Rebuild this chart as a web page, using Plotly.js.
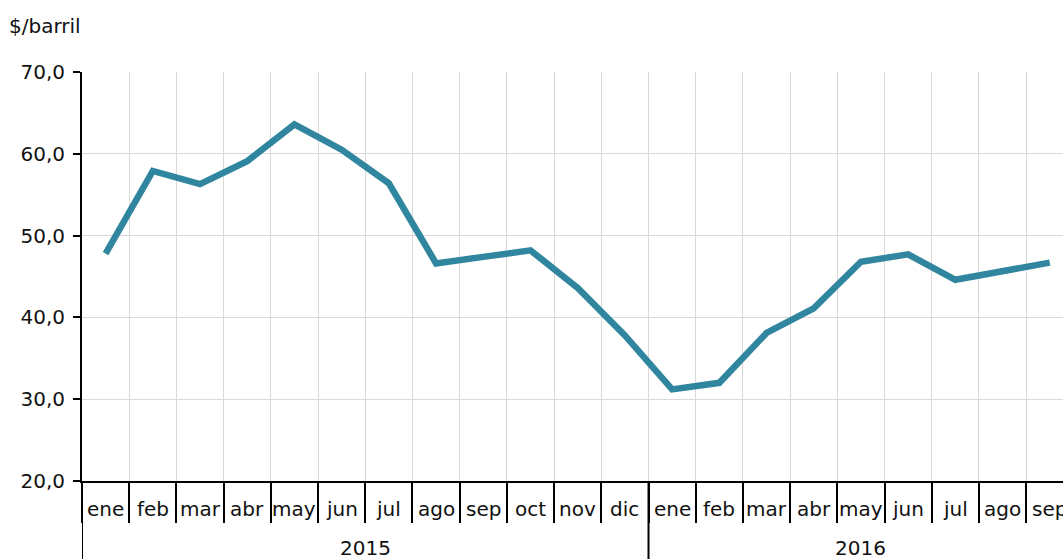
<!DOCTYPE html>
<html>
<head>
<meta charset="utf-8">
<script src="https://cdn.plot.ly/plotly-3.0.1.min.js"></script>
<style>
html,body{margin:0;padding:0;overflow:hidden;background:#fff;}
#chart{width:1063px;height:559px;}
</style>
</head>
<body>
<div id="chart"></div>
<script>
const months = ["ene","feb","mar","abr","may","jun","jul","ago","sep","oct","nov","dic",
                "ene","feb","mar","abr","may","jun","jul","ago","sep"];
const years = ["2015","2016"];
const yearStart = [0, 12];   // index of first month of each year
const yearEnd = [11, 20];    // index of last month of each year
const prices = [47.8, 57.9, 56.3, 59.1, 63.6, 60.5, 56.4, 46.6, 47.4, 48.2, 43.6, 37.8,
                31.2, 32.0, 38.1, 41.1, 46.8, 47.7, 44.6, 45.6, 46.7];
const yTicks = [20, 30, 40, 50, 60, 70];
const yUnit = "$/barril";

const idx = months.map((m, i) => i);
const boundaries = [];
for (let i = 0; i <= months.length; i++) boundaries.push(i - 0.5);

const trace = {
  x: idx,
  y: prices,
  type: "scatter",
  mode: "lines",
  line: {color: "#2f869e", width: 6.5},
  hoverinfo: "skip"
};

const FONT = "DejaVu Sans, Verdana, sans-serif";

const annotations = [];
months.forEach((m, i) => annotations.push({
  text: m, xref: "x", yref: "paper", x: i, y: 0,
  xanchor: "center", yanchor: "middle", yshift: -28,
  showarrow: false, font: {size: 20, color: "#111", family: FONT}
}));
years.forEach((yr, k) => annotations.push({
  text: yr, xref: "x", yref: "paper", x: (yearStart[k] + yearEnd[k]) / 2, y: 0,
  xanchor: "center", yanchor: "middle", yshift: -67,
  showarrow: false, font: {size: 20, color: "#111", family: FONT}
}));
annotations.push({
  text: yUnit, xref: "paper", yref: "paper",
  x: -82/981, y: 1 + (72-26)/409,
  xanchor: "left", yanchor: "middle", xshift: 7,
  showarrow: false, font: {size: 20, color: "#111", family: FONT}
});

const shapes = yearStart.map(s => ({
  type: "line", xref: "x", yref: "paper",
  x0: s - 0.5, x1: s - 0.5, y0: 0, y1: -80/409,
  line: {color: "#000", width: 2}
}));

const layout = {
  width: 1063,
  height: 559,
  margin: {l: 82, r: 0, t: 72, b: 78, pad: 0},
  paper_bgcolor: "#ffffff",
  plot_bgcolor: "#ffffff",
  separators: ",.",
  showlegend: false,
  font: {family: FONT, size: 20, color: "#111"},
  xaxis: {
    type: "linear",
    range: [-0.5, 20.28],
    tickmode: "array",
    tickvals: boundaries,
    showticklabels: false,
    showgrid: true,
    gridcolor: "#d9d9d9",
    gridwidth: 1,
    ticks: "outside",
    ticklen: 40,
    tickcolor: "#000",
    tickwidth: 2,
    showline: true,
    linecolor: "#000",
    linewidth: 2,
    zeroline: false,
    fixedrange: true
  },
  yaxis: {
    range: [20, 70],
    tickmode: "array",
    tickvals: yTicks,
    tickformat: ".1f",
    showgrid: true,
    gridcolor: "#d9d9d9",
    gridwidth: 1,
    ticks: "outside",
    ticklen: 7,
    tickcolor: "#000",
    tickwidth: 2,
    showline: true,
    linecolor: "#000",
    linewidth: 2,
    zeroline: false,
    tickfont: {size: 20, color: "#111", family: FONT},
    ticklabelstandoff: 4,
    fixedrange: true
  },
  annotations: annotations,
  shapes: shapes
};

Plotly.newPlot("chart", [trace], layout, {displayModeBar: false, staticPlot: true});
</script>
</body>
</html>
